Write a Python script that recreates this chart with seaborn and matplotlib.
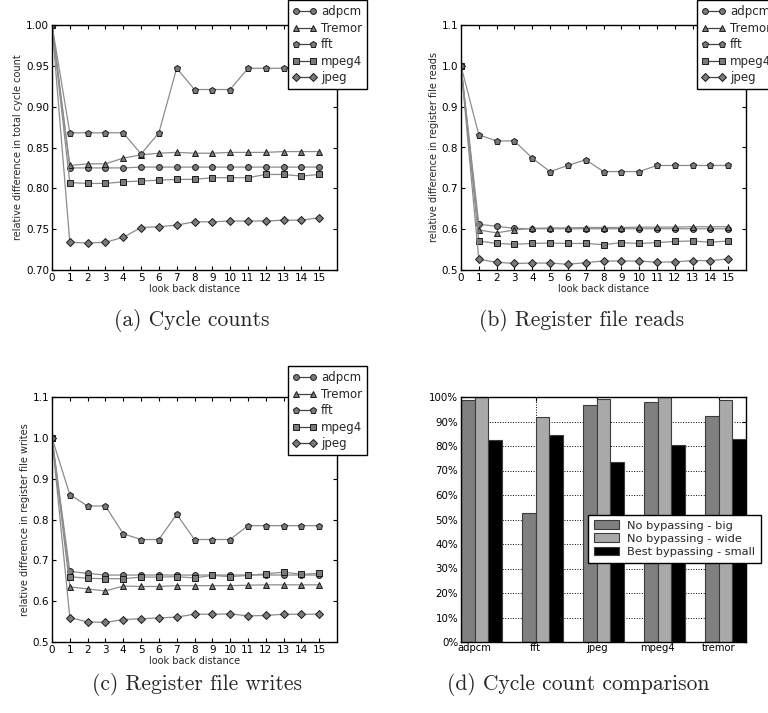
import matplotlib
matplotlib.use('Agg')
import matplotlib.pyplot as plt
import matplotlib.ticker as mticker
import numpy as np
import pandas as pd
import seaborn as sns

# -------------------------
# Data
# -------------------------
look_back = list(range(16))
series_names = ["adpcm", "Tremor", "fft", "mpeg4", "jpeg"]

# (a) relative difference in total cycle count
cyc_adpcm = [1.0, 0.825, 0.825, 0.825, 0.825, 0.826, 0.826, 0.826, 0.826, 0.826, 0.826, 0.826, 0.826, 0.826, 0.826, 0.826]
cyc_tremor = [1.0, 0.828, 0.830, 0.830, 0.837, 0.841, 0.843, 0.844, 0.843, 0.843, 0.844, 0.844, 0.844, 0.845, 0.845, 0.845]
cyc_fft = [1.0, 0.868, 0.868, 0.868, 0.868, 0.842, 0.868, 0.947, 0.921, 0.921, 0.921, 0.947, 0.947, 0.947, 0.947, 0.947]
cyc_mpeg4 = [1.0, 0.807, 0.806, 0.806, 0.808, 0.809, 0.810, 0.811, 0.811, 0.813, 0.813, 0.813, 0.817, 0.817, 0.815, 0.817]
cyc_jpeg = [1.0, 0.734, 0.733, 0.734, 0.740, 0.752, 0.753, 0.755, 0.759, 0.759, 0.760, 0.760, 0.760, 0.761, 0.761, 0.764]

# (b) relative difference in register file reads
rd_adpcm = [1.0, 0.612, 0.607, 0.602, 0.601, 0.601, 0.601, 0.601, 0.601, 0.601, 0.601, 0.601, 0.601, 0.601, 0.601, 0.601]
rd_tremor = [1.0, 0.598, 0.591, 0.598, 0.602, 0.603, 0.603, 0.604, 0.604, 0.604, 0.605, 0.605, 0.605, 0.606, 0.606, 0.606]
rd_fft = [1.0, 0.831, 0.816, 0.816, 0.774, 0.741, 0.756, 0.770, 0.741, 0.741, 0.741, 0.756, 0.756, 0.756, 0.756, 0.756]
rd_mpeg4 = [1.0, 0.571, 0.565, 0.563, 0.565, 0.566, 0.565, 0.565, 0.562, 0.567, 0.565, 0.567, 0.570, 0.571, 0.568, 0.571]
rd_jpeg = [1.0, 0.526, 0.519, 0.516, 0.517, 0.517, 0.514, 0.518, 0.522, 0.522, 0.522, 0.519, 0.520, 0.523, 0.523, 0.527]

# (c) relative difference in register file writes
wr_adpcm = [1.0, 0.673, 0.668, 0.664, 0.664, 0.664, 0.664, 0.664, 0.664, 0.664, 0.664, 0.664, 0.664, 0.664, 0.664, 0.664]
wr_tremor = [1.0, 0.635, 0.630, 0.625, 0.637, 0.636, 0.636, 0.638, 0.638, 0.638, 0.638, 0.639, 0.640, 0.640, 0.640, 0.640]
wr_fft = [1.0, 0.861, 0.833, 0.833, 0.765, 0.751, 0.751, 0.813, 0.751, 0.751, 0.751, 0.785, 0.785, 0.785, 0.785, 0.785]
wr_mpeg4 = [1.0, 0.660, 0.656, 0.655, 0.655, 0.659, 0.659, 0.660, 0.657, 0.663, 0.660, 0.663, 0.667, 0.671, 0.666, 0.668]
wr_jpeg = [1.0, 0.560, 0.549, 0.548, 0.555, 0.557, 0.559, 0.561, 0.568, 0.568, 0.569, 0.564, 0.565, 0.568, 0.568, 0.568]

# (d) cycle count comparison (%)
benchmarks = ["adpcm", "fft", "jpeg", "mpeg4", "tremor"]
config_names = ["No bypassing - big", "No bypassing - wide", "Best bypassing - small"]
pct_big = [98.9, 52.7, 96.9, 97.8, 92.3]
pct_wide = [99.8, 92.0, 99.3, 100.0, 98.8]
pct_small = [82.5, 84.3, 73.4, 80.6, 82.8]

# -------------------------
# Style
# -------------------------
sns.set_style("ticks")
plt.rcParams['font.family'] = ['DejaVu Sans']
plt.rcParams.update({
    'xtick.direction': 'in',
    'ytick.direction': 'in',
    'xtick.top': True,
    'ytick.right': True,
    'xtick.major.size': 3,
    'ytick.major.size': 3,
    'axes.edgecolor': 'black',
    'axes.linewidth': 1.0,
    'xtick.color': 'black',
    'ytick.color': 'black',
})

MARKERS = {"adpcm": "o", "Tremor": "^", "fft": "p", "mpeg4": "s", "jpeg": "D"}
MSIZE = {"adpcm": 4.2, "Tremor": 4.2, "fft": 4.8, "mpeg4": 4.2, "jpeg": 3.6}
LINE_GREY = "#8c8c8c"
FACE_GREY = "#7a7a7a"

fig = plt.figure(figsize=(7.68, 7.13), dpi=100)
W, H = 768.0, 713.0


def px_axes(left, top, right, bottom):
    return fig.add_axes([left / W, 1 - bottom / H, (right - left) / W, (bottom - top) / H])


def line_panel(ax, data, ylim, yticks, yfmt, ylabel, legend_anchor):
    for name, vals in zip(series_names, data):
        sns.lineplot(x=look_back, y=vals, ax=ax, label=name, color=LINE_GREY,
                     linewidth=0.9, marker=MARKERS[name], markersize=MSIZE[name],
                     markerfacecolor=FACE_GREY, markeredgecolor="#1a1a1a",
                     markeredgewidth=0.7)
    ax.set_xlim(0, 16)
    ax.set_ylim(*ylim)
    ax.set_xticks(look_back)
    ax.set_yticks(yticks)
    ax.yaxis.set_major_formatter(mticker.FormatStrFormatter(yfmt))
    ax.tick_params(labelsize=7.5, pad=2)
    ax.set_xlabel("look back distance", fontsize=7, labelpad=1)
    ax.set_ylabel(ylabel, fontsize=7, labelpad=2)
    leg = ax.legend(loc="upper right", bbox_to_anchor=legend_anchor, borderaxespad=0,
                    numpoints=2, fontsize=8.5, frameon=True, fancybox=False,
                    framealpha=1, edgecolor="black", labelspacing=0.3,
                    handlelength=2.0, handletextpad=0.4, borderpad=0.4)
    leg.get_frame().set_linewidth(1.0)
    for h in leg.legend_handles:
        h.set_color("#444444")
        h.set_markerfacecolor(FACE_GREY)
        h.set_markeredgecolor("#1a1a1a")


ax_a = px_axes(52, 25, 337, 270)
line_panel(ax_a, [cyc_adpcm, cyc_tremor, cyc_fft, cyc_mpeg4, cyc_jpeg],
           (0.70, 1.00), np.arange(0.70, 1.001, 0.05), "%.2f",
           "relative difference in total cycle count", (1.105, 1.10))

ax_b = px_axes(461, 25, 746, 270)
line_panel(ax_b, [rd_adpcm, rd_tremor, rd_fft, rd_mpeg4, rd_jpeg],
           (0.5, 1.1), np.arange(0.5, 1.101, 0.1), "%.1f",
           "relative difference in register file reads", (1.105, 1.10))

ax_c = px_axes(52, 397, 337, 642)
line_panel(ax_c, [wr_adpcm, wr_tremor, wr_fft, wr_mpeg4, wr_jpeg],
           (0.5, 1.1), np.arange(0.5, 1.101, 0.1), "%.1f",
           "relative difference in register file writes", (1.105, 1.125))

# (d) grouped bars
ax_d = px_axes(461, 397, 746, 642)
bar_df = pd.DataFrame({
    "benchmark": benchmarks * 3,
    "config": [c for c in config_names for _ in benchmarks],
    "pct": pct_big + pct_wide + pct_small,
})
bar_w = 0.223
sns.barplot(data=bar_df, x="benchmark", y="pct", hue="config", ax=ax_d,
            palette=["#808080", "#a9a9a9", "#000000"], saturation=1,
            width=3 * bar_w, edgecolor="#3c3c3c", linewidth=0.8, errorbar=None)
ax_d.set_xlim(-1.5 * bar_w, 4 + 1.5 * bar_w)
ax_d.set_ylim(0, 100)
ax_d.set_xticks([i - bar_w / 2 for i in range(len(benchmarks))])
ax_d.set_xticklabels(benchmarks)
ax_d.set_yticks(range(0, 101, 10))
ax_d.yaxis.set_major_formatter(mticker.FuncFormatter(lambda v, p: f"{int(v)}%"))
ax_d.tick_params(labelsize=7.4, pad=2)
ax_d.tick_params(axis="x", labelsize=7.2, pad=1)
ax_d.set_xlabel("")
ax_d.set_ylabel("")
ax_d.set_axisbelow(True)
ax_d.grid(True, linestyle=":", color="black", linewidth=0.7)
leg_d = ax_d.legend(loc="upper left", bbox_to_anchor=(0.446, 0.52), borderaxespad=0,
                    fontsize=8.2, frameon=True, fancybox=False, framealpha=1,
                    edgecolor="black", labelspacing=0.25, handlelength=2.2,
                    handleheight=0.8, handletextpad=0.7, borderpad=0.5)
leg_d.get_frame().set_linewidth(1.0)

# Captions
cap_kw = dict(ha="center", va="center", fontsize=15.5, family="cmr10")
fig.text(192 / W, 1 - 321 / H, "(a) Cycle counts", **cap_kw)
fig.text(582 / W, 1 - 321 / H, "(b) Register file reads", **cap_kw)
fig.text(197 / W, 1 - 684 / H, "(c) Register file writes", **cap_kw)
fig.text(578 / W, 1 - 684 / H, "(d) Cycle count comparison", **cap_kw)

fig.savefig("out.png", dpi=100)
plt.close(fig)
